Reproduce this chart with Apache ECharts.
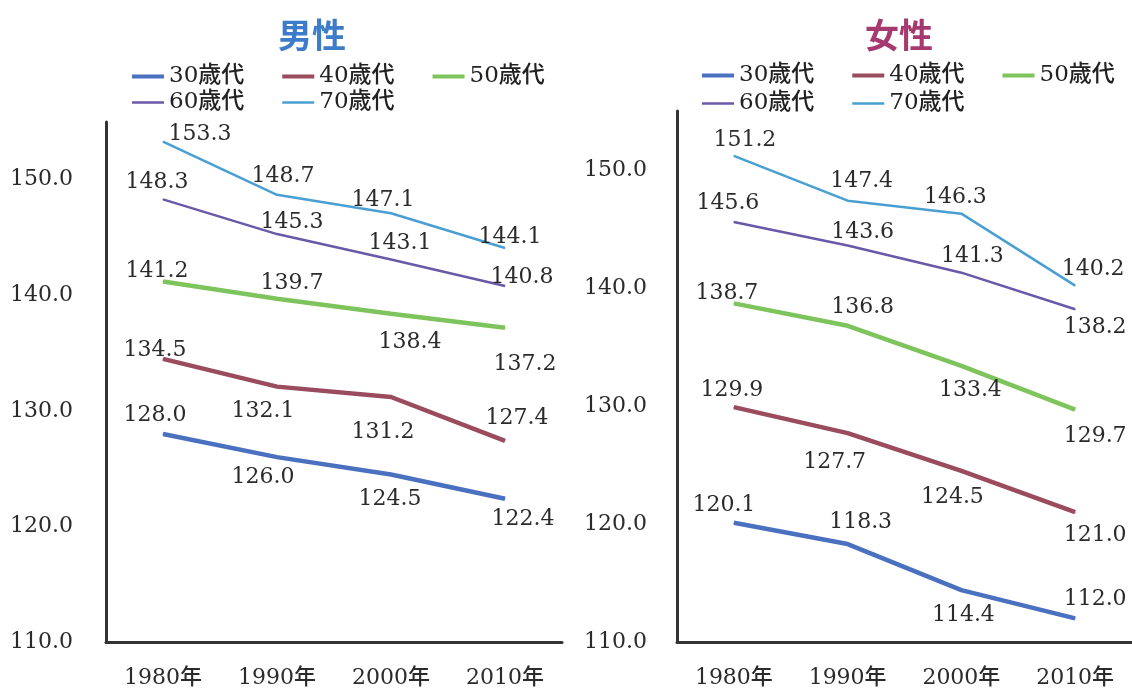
<!DOCTYPE html>
<html>
<head>
<meta charset="utf-8">
<script src="https://cdn.jsdelivr.net/npm/echarts@6/dist/echarts.min.js"></script>
<style>
  html, body { margin: 0; padding: 0; background: #fff; }
  #chart { width: 1132px; height: 690px; }
</style>
</head>
<body>
<div id="chart"></div>
<script>
// Categories and tick settings
const years = ['1980年', '1990年', '2000年', '2010年'];
const ageGroups = ['30歳代', '40歳代', '50歳代', '60歳代', '70歳代'];
const yMin = 110, yMax = 155, yStep = 10;

// 男性
const male30 = [128.0, 126.0, 124.5, 122.4];
const male40 = [134.5, 132.1, 131.2, 127.4];
const male50 = [141.2, 139.7, 138.4, 137.2];
const male60 = [148.3, 145.3, 143.1, 140.8];
const male70 = [153.3, 148.7, 147.1, 144.1];

// 女性
const female30 = [120.1, 118.3, 114.4, 112.0];
const female40 = [129.9, 127.7, 124.5, 121.0];
const female50 = [138.7, 136.8, 133.4, 129.7];
const female60 = [145.6, 143.6, 141.3, 138.2];
const female70 = [151.2, 147.4, 146.3, 140.2];

// Line appearance per age group
const lineColors = ['#4a70c0', '#9a4b5e', '#7ec45c', '#6a58a8', '#4a9fd2'];
const lineWidths = [4.5, 4.5, 4.5, 2.5, 2.5];

// Value-label placement (pixel offsets of label centre from the point)
const maleLabelOffsets = [
  [[-8, -19], [-14, 20], [-1, 25], [18, 21]],
  [[-8, -9], [-14, 25], [-8, 35], [12, -23]],
  [[-6, -10], [15, -16], [19, 28], [20, 37]],
  [[-6, -17], [15, -12], [9, -16], [17, -9]],
  [[37, -7], [6, -19], [-8, -13], [5, -11]]
];
const femaleLabelOffsets = [
  [[-10, -18], [13, -22], [2, 25], [20, -19]],
  [[-2, -17], [-13, 29], [-9, 26], [20, 23]],
  [[-7, -10], [15, -18], [9, 24], [20, 27]],
  [[-6, -19], [15, -13], [11, -16], [20, 18]],
  [[11, -16], [14, -19], [-6, -16], [18, -16]]
];

const maleSeries = [male30, male40, male50, male60, male70];
const femaleSeries = [female30, female40, female50, female60, female70];

const numFont = "'DejaVu Serif', 'Noto Sans CJK JP', serif";
const textColor = '#2b2b2b';
const axisColor = '#333';

function makeSeries(values, idx, panel, offsets) {
  return {
    type: 'line',
    name: ageGroups[idx],
    xAxisIndex: panel,
    yAxisIndex: panel,
    symbol: 'circle',
    symbolSize: 1,
    color: lineColors[idx],
    itemStyle: { color: lineColors[idx] },
    lineStyle: { color: lineColors[idx], width: lineWidths[idx] },
    emphasis: { disabled: true },
    animation: false,
    label: {
      show: true,
      position: 'inside',
      fontFamily: numFont,
      fontSize: 22,
      color: textColor,
      formatter: p => Number(p.value).toFixed(1)
    },
    data: values.map((v, i) => ({ value: v, label: { offset: offsets[idx][i] } }))
  };
}

function makeXAxis(panel) {
  return {
    type: 'category',
    gridIndex: panel,
    data: years,
    boundaryGap: true,
    axisLine: { show: true, lineStyle: { color: axisColor, width: 3 } },
    axisTick: { show: false },
    axisLabel: { margin: 25, fontFamily: numFont, fontSize: 22, color: textColor, fontWeight: 500 }
  };
}

function makeYAxis(panel, margin) {
  return {
    type: 'value',
    gridIndex: panel,
    min: yMin,
    max: yMax,
    interval: yStep,
    axisLine: { show: true, lineStyle: { color: axisColor, width: 3 } },
    axisTick: { show: false },
    splitLine: { show: false },
    axisLabel: {
      margin: margin,
      showMaxLabel: false,
      fontFamily: numFont,
      fontSize: 22,
      color: textColor,
      formatter: v => v.toFixed(1)
    }
  };
}

function makeLegend(names, left, top, h) {
  return {
    data: names,
    left: left,
    top: top,
    orient: 'horizontal',
    icon: 'rect',
    itemWidth: 32,
    itemHeight: h,
    itemGap: 38,
    selectedMode: false,
    textStyle: { fontFamily: numFont, fontSize: 23, color: '#222', fontWeight: 500, padding: [0, 0, 0, 0] }
  };
}

const chart = echarts.init(document.getElementById('chart'), null, { renderer: 'canvas' });

chart.setOption({
  backgroundColor: '#fff',
  animation: false,
  title: [
    {
      text: '男性', left: 307, top: 30, textAlign: 'center', textVerticalAlign: 'middle',
      textStyle: { fontFamily: "'Noto Sans CJK JP', sans-serif", fontSize: 34, fontWeight: 'bold', color: '#3d7cc9' }
    },
    {
      text: '女性', left: 894, top: 30, textAlign: 'center', textVerticalAlign: 'middle',
      textStyle: { fontFamily: "'Noto Sans CJK JP', sans-serif", fontSize: 34, fontWeight: 'bold', color: '#a63a70' }
    }
  ],
  legend: [
    makeLegend(ageGroups.slice(0, 3), 127, 60, 4),
    makeLegend(ageGroups.slice(3), 127, 86, 2.5),
    makeLegend(ageGroups.slice(0, 3), 697, 59, 4),
    makeLegend(ageGroups.slice(3), 697, 87, 2.5)
  ],
  grid: [
    { left: 106, top: 122, width: 456, height: 520 },
    { left: 677, top: 111, width: 455, height: 531 }
  ],
  xAxis: [makeXAxis(0), makeXAxis(1)],
  yAxis: [makeYAxis(0, 33), makeYAxis(1, 30)],
  series: [
    ...maleSeries.map((vals, i) => makeSeries(vals, i, 0, maleLabelOffsets)),
    ...femaleSeries.map((vals, i) => makeSeries(vals, i, 1, femaleLabelOffsets))
  ]
});
</script>
</body>
</html>
